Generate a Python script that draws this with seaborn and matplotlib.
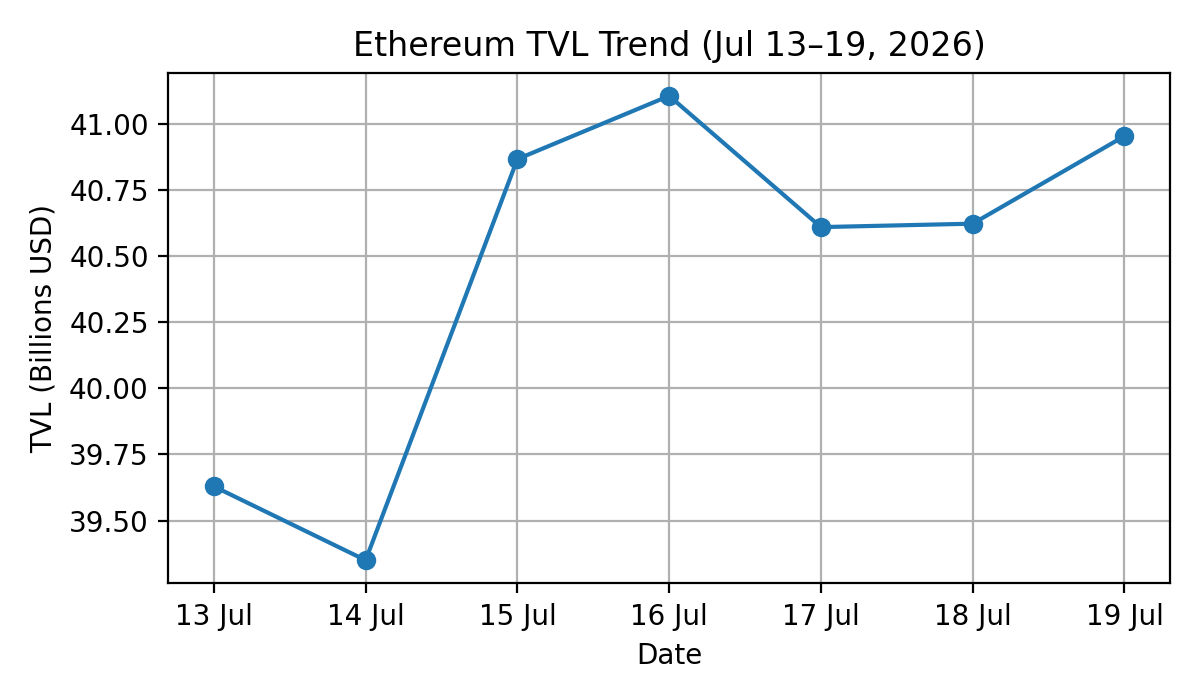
import pandas as pd
import matplotlib.pyplot as plt
import matplotlib.dates as mdates
import seaborn as sns

# daily TVL values
dates = ["2026-07-13", "2026-07-14", "2026-07-15", "2026-07-16",
         "2026-07-17", "2026-07-18", "2026-07-19"]
tvl = [39.629, 39.350, 40.866, 41.105, 40.609, 40.622, 40.953]

df = pd.DataFrame({"Date": pd.to_datetime(dates), "TVL": tvl})

fig, ax = plt.subplots(figsize=(6, 3.5), dpi=200)
sns.lineplot(data=df, x="Date", y="TVL", marker="o", color="#1f77b4",
             markersize=6, markeredgecolor="#1f77b4", markeredgewidth=1, ax=ax)

ax.set_xticks(df["Date"])
ax.xaxis.set_major_formatter(mdates.DateFormatter("%d %b"))
ax.set_title("Ethereum TVL Trend (Jul 13\u201319, 2026)")
ax.set_xlabel("Date")
ax.set_ylabel("TVL (Billions USD)")
ax.grid(True)

plt.tight_layout()
plt.savefig("out.png")
